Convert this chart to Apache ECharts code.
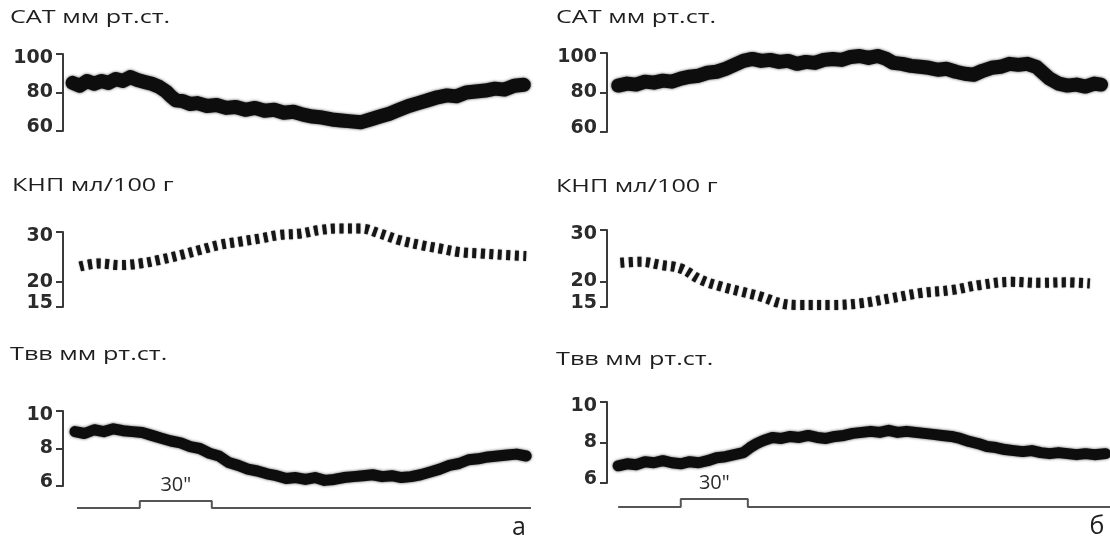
<!DOCTYPE html>
<html>
<head>
<meta charset="utf-8">
<script src="https://cdn.jsdelivr.net/npm/echarts@6/dist/echarts.min.js"></script>
<style>
  html, body { margin: 0; padding: 0; background: #ffffff; }
  #chart { width: 1110px; height: 539px; }
</style>
</head>
<body>
<div id="chart"></div>
<script>
// Trace titles and panel letters
const traceTitles = ['САТ мм рт.ст.', 'КНП мл/100 г', 'Твв мм рт.ст.'];
const panelLetters = ['а', 'б'];

// Axis ticks for each trace type
const satTicks = [60, 80, 100];
const knpTicks = [15, 20, 30];
const tvvTicks = [6, 8, 10];

// Recording span (s) and stimulus timing (s) for panels а and б
const recordSpan = [195, 225];
const stimOnset = [32, 33];
const stimDuration = 30;
const baselineStart = [5.8, 5];

// Panel а: [time s, value]
const satA = [[4,85],[7,83.5],[10,86],[13,84.5],[16,86],[19,85],[22,87],[25,86],[28,88],[31,86.5],[34,85.5],[37,84.5],[40,83],[43,80.5],[45,78],[47,76],[50,75.5],[53,74],[56,74.5],[60,73],[64,73.5],[68,72],[72,72.5],[76,71],[80,72],[84,70.5],[88,71],[92,69.5],[96,70],[100,68.5],[104,67.5],[108,67],[112,66],[116,65.5],[120,65],[124,64.5],[128,66],[132,67.5],[136,69],[140,71],[144,73],[148,74.5],[152,76],[156,77.5],[160,78.5],[164,78],[168,80],[172,80.5],[176,81],[180,82],[184,81.5],[188,83.5],[192,84]];
const knpA = [[7,23.1],[15,23.7],[24,23.4],[32,23.7],[40,24.4],[49,25.4],[57,26.4],[65,27.4],[74,28.1],[82,28.7],[90,29.4],[99,29.7],[107,30.4],[115,30.7],[124,30.7],[132,29.7],[140,28.4],[149,27.4],[157,26.7],[165,26],[174,25.7],[184,25.4],[193,25.2]];
const tvvA = [[5,8.9],[9,8.8],[13,9.0],[17,8.9],[21,9.05],[25,8.95],[29,8.9],[33,8.85],[37,8.7],[41,8.55],[45,8.4],[49,8.3],[53,8.1],[57,8.0],[61,7.75],[65,7.6],[69,7.25],[73,7.1],[77,6.9],[81,6.8],[85,6.65],[89,6.55],[93,6.4],[97,6.45],[101,6.35],[105,6.45],[109,6.3],[113,6.35],[117,6.45],[121,6.5],[125,6.55],[129,6.6],[133,6.5],[137,6.55],[141,6.45],[145,6.5],[149,6.6],[153,6.75],[157,6.9],[161,7.1],[165,7.2],[169,7.4],[173,7.45],[177,7.55],[181,7.6],[185,7.65],[189,7.7],[193,7.6]];

// Panel б: [time s, value]
const satB = [[5,83.5],[9,84.5],[13,84],[17,85.5],[21,85],[25,86],[29,85.5],[33,87],[37,88],[41,88.5],[45,90],[49,90.5],[53,92],[57,94],[61,96],[65,97],[69,96],[73,96.5],[77,95.5],[81,96],[85,94.5],[89,95.5],[93,95],[97,96.5],[101,97],[105,96.5],[109,98],[113,98.5],[117,97.5],[121,98.5],[125,97],[128,95],[132,94.5],[136,93.5],[140,93],[144,92.5],[148,91.5],[152,92],[156,90.5],[160,89.5],[164,89],[168,91],[172,92.5],[176,93],[180,94.5],[184,94],[188,94.5],[192,93],[195,90],[198,87],[202,84.5],[206,83.5],[210,84],[214,83],[218,84.5],[221,84]];
const knpB = [[6,23.6],[15,23.8],[24,23.2],[33,22.5],[42,20.3],[51,19],[60,18],[69,17],[78,15.7],[86,15.4],[100,15.4],[113,15.7],[127,16.7],[140,17.7],[154,18.3],[167,19.3],[181,19.9],[194,19.7],[205,19.8],[216,19.6]];
const tvvB = [[5,6.85],[9,6.95],[13,6.9],[17,7.05],[21,7.0],[25,7.1],[29,7.0],[33,6.95],[37,7.05],[41,7.0],[45,7.1],[49,7.25],[53,7.3],[57,7.4],[61,7.5],[64,7.75],[67,7.95],[70,8.1],[74,8.25],[78,8.2],[82,8.3],[86,8.25],[90,8.35],[94,8.25],[98,8.2],[102,8.3],[106,8.35],[110,8.45],[114,8.5],[118,8.55],[122,8.5],[126,8.6],[130,8.5],[134,8.55],[138,8.5],[142,8.45],[146,8.4],[150,8.35],[154,8.3],[158,8.2],[162,8.05],[166,7.95],[170,7.8],[174,7.75],[178,7.65],[182,7.6],[186,7.55],[190,7.6],[194,7.5],[198,7.45],[202,7.5],[206,7.45],[210,7.4],[214,7.45],[218,7.4],[223,7.45]];

// ---- layout ----
const AX = '#3a3a3a';
const TXT = '#1e1e1e';
const grids = [
  { left: 63,  top: 54,  width: 468, height: 77 },  // а САТ
  { left: 63,  top: 232, width: 468, height: 75 },  // а КНП
  { left: 63,  top: 411, width: 468, height: 75 },  // а Твв
  { left: 607, top: 53,  width: 503, height: 79 },  // б САТ
  { left: 607, top: 230, width: 503, height: 77 },  // б КНП
  { left: 607, top: 402, width: 503, height: 81 },  // б Твв
  { left: 63,  top: 501, width: 468, height: 7 },   // а stimulus
  { left: 607, top: 499, width: 503, height: 8 }    // б stimulus
];

const panelOfGrid = [0, 0, 0, 1, 1, 1, 0, 1];
const xAxes = grids.map((g, i) => ({
  gridIndex: i, type: 'value', min: 0, max: recordSpan[panelOfGrid[i]], show: false
}));

function bracketAxis(gi, ticks) {
  return {
    gridIndex: gi, type: 'value', position: 'left',
    min: ticks[0], max: ticks[ticks.length - 1],
    axisLine: { show: true, onZero: false, lineStyle: { color: AX, width: 2 } },
    axisTick: { show: true, length: 7, customValues: ticks, lineStyle: { color: AX, width: 2 } },
    axisLabel: {
      show: true, customValues: ticks, margin: 10, color: '#2b2b2b',
      fontFamily: 'DejaVu Sans', fontWeight: 'bold', fontSize: 19, lineHeight: 8,
      verticalAlignMinLabel: 'bottom', verticalAlignMaxLabel: 'top'
    },
    splitLine: { show: false }
  };
}
const tickSets = [satTicks, knpTicks, tvvTicks, satTicks, knpTicks, tvvTicks];
const yAxes = tickSets.map((t, i) => bracketAxis(i, t));
yAxes.push({ gridIndex: 6, type: 'value', min: 0, max: 1, show: false });
yAxes.push({ gridIndex: 7, type: 'value', min: 0, max: 1, show: false });

function noisyTrace(data, gi, width) {
  return {
    type: 'line', xAxisIndex: gi, yAxisIndex: gi, data: data,
    showSymbol: false, symbol: 'none', clip: false, silent: true,
    lineStyle: { color: '#0d0d0d', width: width, join: 'round', cap: 'round',
                 shadowBlur: 3, shadowColor: 'rgba(0,0,0,0.7)' }
  };
}
function pulseTrace(data, gi) {
  return {
    type: 'line', xAxisIndex: gi, yAxisIndex: gi, data: data, smooth: 0.4,
    showSymbol: false, symbol: 'none', clip: false, silent: true,
    lineStyle: { color: '#151515', width: 10, type: [4, 4.5], cap: 'butt',
                 shadowBlur: 1.5, shadowColor: 'rgba(0,0,0,0.5)' }
  };
}
function stimTrace(p, gi) {
  const on = stimOnset[p];
  return {
    type: 'line', xAxisIndex: gi, yAxisIndex: gi, step: 'end',
    data: [[baselineStart[p], 0], [on, 1], [on + stimDuration, 0], [recordSpan[p], 0]],
    showSymbol: false, symbol: 'none', clip: false, silent: true,
    lineStyle: { color: '#555555', width: 2 },
    markPoint: {
      symbol: 'circle', symbolSize: 0, silent: true,
      data: [{ coord: [on + stimDuration / 2, 1], value: stimDuration }],
      label: { show: true, position: 'top', distance: 6, formatter: (d) => d.value + '"',
               color: '#2b2b2b', fontFamily: 'Open Sans', fontSize: 20 }
    }
  };
}

const series = [
  noisyTrace(satA, 0, 14), pulseTrace(knpA, 1), noisyTrace(tvvA, 2, 11),
  noisyTrace(satB, 3, 14), pulseTrace(knpB, 4), noisyTrace(tvvB, 5, 11),
  stimTrace(0, 6), stimTrace(1, 7)
];

// Titles above each trace, drawn wide like the original lettering
const titlePos = [
  [10, 18], [12, 186], [10, 355],
  [556, 18], [556, 187], [556, 360]
];
const graphic = titlePos.map((p, i) => ({
  type: 'text', x: p[0], y: p[1], scaleX: 1.4, silent: true,
  style: { text: traceTitles[i % 3], fill: TXT, font: '18px "Open Sans"',
           textVerticalAlign: 'middle', verticalAlign: 'middle' }
}));
[[519, 528], [1097, 527]].forEach((p, i) => {
  graphic.push({
    type: 'text', x: p[0], y: p[1], silent: true,
    style: { text: panelLetters[i], fill: TXT, font: '25px "Open Sans"',
             textAlign: 'center', align: 'center',
             textVerticalAlign: 'middle', verticalAlign: 'middle' }
  });
});

const chart = echarts.init(document.getElementById('chart'), null, { renderer: 'canvas' });
chart.setOption({
  animation: false,
  backgroundColor: '#ffffff',
  grid: grids,
  xAxis: xAxes,
  yAxis: yAxes,
  series: series,
  graphic: graphic
});
</script>
</body>
</html>
